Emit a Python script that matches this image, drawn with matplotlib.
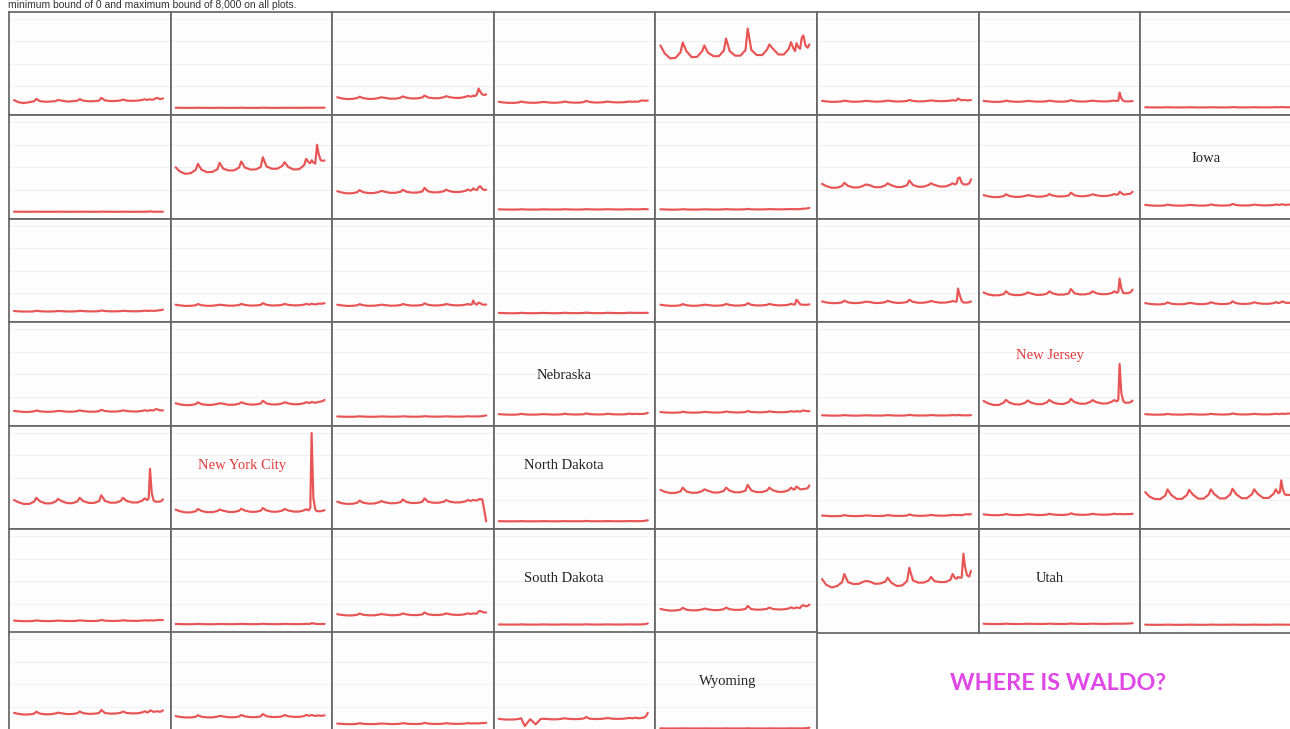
import matplotlib
matplotlib.use("Agg")
import matplotlib.pyplot as plt

# ---------------- data ----------------
# sample dates (decimal years) shared by every panel
dates = [2014.00, 2014.20, 2014.45, 2014.70, 2014.93,
         2015.03, 2015.20, 2015.45, 2015.70, 2015.93,
         2016.03, 2016.20, 2016.45, 2016.70, 2016.93,
         2017.03, 2017.20, 2017.45, 2017.70, 2017.93,
         2018.03, 2018.20, 2018.45, 2018.70, 2018.93,
         2019.03, 2019.20, 2019.45, 2019.70, 2019.93,
         2020.03, 2020.15, 2020.22, 2020.28, 2020.36, 2020.45,
         2020.53, 2020.60, 2020.70, 2020.80, 2020.88]

states = ["Alabama", "Alaska", "Arizona", "Arkansas", "California", "Colorado",
          "Connecticut", "Delaware", "District of Columbia", "Florida", "Georgia",
          "Hawaii", "Idaho", "Illinois", "Indiana", "Iowa", "Kansas", "Kentucky",
          "Louisiana", "Maine", "Maryland", "Massachusetts", "Michigan", "Minnesota",
          "Mississippi", "Missouri", "Montana", "Nebraska", "Nevada", "New Hampshire",
          "New Jersey", "New Mexico", "New York", "New York City", "North Carolina",
          "North Dakota", "Ohio", "Oklahoma", "Oregon", "Pennsylvania", "Puerto Rico",
          "Rhode Island", "South Carolina", "South Dakota", "Tennessee", "Texas",
          "Utah", "Vermont", "Virginia", "Washington", "West Virginia", "Wisconsin",
          "Wyoming"]

alabama = [750, 560, 480, 560, 640, 850, 650, 600, 620, 660, 760, 700, 620, 640, 700, 830, 700, 640, 650, 700, 950, 720, 660, 670, 720, 800, 700, 680, 700, 760, 820, 760, 800, 820, 780, 800, 900, 950, 860, 850, 900]
alaska = [70, 60, 55, 55, 60, 70, 60, 55, 55, 60, 65, 60, 55, 55, 60, 70, 60, 55, 55, 60, 75, 60, 55, 55, 60, 70, 60, 60, 60, 65, 70, 65, 65, 65, 65, 65, 70, 70, 70, 70, 70]
arizona = [1000, 900, 840, 850, 930, 1050, 920, 850, 860, 940, 1000, 950, 870, 880, 960, 1080, 960, 890, 900, 980, 1150, 980, 910, 920, 1000, 1100, 1000, 940, 950, 1040, 1120, 1060, 1080, 1150, 1100, 1250, 1780, 1500, 1250, 1200, 1250]
arkansas = [600, 540, 500, 500, 540, 620, 550, 510, 510, 550, 580, 560, 510, 520, 560, 620, 560, 520, 520, 570, 680, 580, 530, 540, 580, 620, 570, 540, 550, 590, 630, 590, 600, 620, 600, 610, 680, 720, 700, 690, 700]
california = [5600, 4900, 4450, 4500, 5000, 5870, 5100, 4550, 4600, 5100, 5600, 4950, 4650, 4650, 5150, 6220, 5100, 4700, 4700, 5200, 7110, 5200, 4750, 4750, 5250, 5690, 5300, 4800, 4800, 5300, 5900, 5300, 5100, 5800, 5500, 5300, 6300, 6490, 5600, 5400, 5700]
colorado = [680, 630, 590, 600, 640, 700, 640, 600, 610, 650, 680, 650, 610, 620, 660, 710, 660, 620, 630, 670, 760, 670, 630, 640, 690, 720, 680, 650, 660, 700, 740, 700, 720, 900, 800, 720, 760, 750, 720, 730, 760]
connecticut = [680, 630, 590, 590, 630, 700, 640, 600, 600, 640, 670, 650, 610, 610, 650, 700, 650, 610, 610, 660, 750, 660, 620, 620, 670, 700, 660, 630, 630, 680, 700, 660, 700, 1420, 900, 680, 640, 630, 630, 650, 660]
delaware = [110, 100, 95, 95, 100, 115, 100, 95, 95, 100, 110, 105, 95, 95, 100, 115, 100, 95, 95, 105, 125, 105, 100, 100, 105, 115, 105, 100, 100, 110, 120, 110, 110, 130, 120, 110, 110, 110, 110, 110, 115]
dist_columbia = [30, 25, 20, 20, 25, 30, 25, 20, 20, 25, 30, 25, 20, 20, 25, 30, 25, 20, 20, 25, 35, 25, 20, 20, 25, 30, 25, 20, 20, 25, 30, 25, 30, 60, 40, 25, 25, 25, 25, 25, 25]
florida = [3980, 3600, 3390, 3450, 3750, 4280, 3750, 3540, 3560, 3800, 4370, 3850, 3690, 3700, 3950, 4490, 3950, 3780, 3780, 4000, 4870, 4050, 3840, 3850, 4100, 4430, 4000, 3780, 3800, 4150, 4730, 4400, 4350, 4600, 4400, 4300, 5970, 5200, 4600, 4550, 4580]
georgia = [1850, 1740, 1660, 1670, 1760, 1950, 1760, 1680, 1690, 1780, 1880, 1800, 1700, 1710, 1800, 1980, 1800, 1720, 1730, 1820, 2150, 1830, 1740, 1760, 1850, 1980, 1840, 1770, 1790, 1880, 2000, 1900, 1950, 2100, 2000, 1950, 2200, 2300, 2050, 1950, 1980]
hawaii = [240, 225, 215, 215, 225, 245, 225, 215, 215, 225, 240, 230, 220, 220, 230, 250, 230, 220, 220, 230, 255, 235, 225, 225, 235, 250, 235, 225, 225, 240, 250, 240, 240, 240, 235, 235, 240, 250, 260, 250, 245]
idaho = [240, 225, 210, 210, 225, 250, 225, 215, 215, 230, 240, 230, 220, 220, 235, 255, 235, 225, 225, 240, 270, 240, 230, 230, 245, 260, 245, 235, 240, 255, 265, 250, 250, 260, 250, 250, 280, 300, 300, 330, 360]
illinois = [2500, 2300, 2150, 2160, 2320, 2600, 2320, 2180, 2190, 2350, 2450, 2380, 2200, 2210, 2370, 2550, 2380, 2220, 2230, 2390, 2800, 2400, 2240, 2250, 2410, 2550, 2400, 2260, 2270, 2430, 2550, 2450, 2550, 3000, 3070, 2600, 2450, 2450, 2450, 2550, 2900]
indiana = [1500, 1400, 1320, 1330, 1410, 1580, 1420, 1340, 1350, 1430, 1500, 1450, 1360, 1370, 1450, 1590, 1460, 1380, 1390, 1470, 1720, 1480, 1400, 1410, 1490, 1580, 1490, 1420, 1430, 1520, 1600, 1530, 1580, 1800, 1700, 1550, 1550, 1580, 1600, 1650, 1800]
iowa = [630, 590, 560, 560, 590, 660, 600, 565, 565, 595, 630, 610, 570, 570, 600, 670, 610, 575, 575, 605, 720, 620, 580, 580, 610, 660, 620, 585, 590, 620, 670, 630, 640, 680, 670, 630, 640, 650, 660, 700, 800]
kansas = [400, 370, 350, 350, 370, 420, 380, 355, 355, 375, 400, 385, 360, 360, 380, 420, 390, 365, 365, 385, 450, 395, 370, 370, 390, 420, 395, 375, 375, 395, 430, 405, 410, 430, 420, 410, 420, 440, 460, 480, 520]
kentucky = [960, 900, 850, 860, 910, 1020, 910, 860, 870, 920, 960, 930, 870, 880, 930, 1030, 940, 880, 890, 940, 1100, 950, 890, 900, 950, 1030, 950, 900, 910, 960, 1040, 970, 990, 1050, 1010, 980, 1020, 1050, 1050, 1060, 1100]
louisiana = [960, 900, 850, 860, 910, 1010, 910, 860, 870, 920, 960, 930, 870, 880, 930, 1020, 940, 880, 890, 940, 1080, 950, 890, 900, 950, 1020, 950, 900, 910, 960, 1020, 960, 1000, 1330, 1050, 960, 1150, 1100, 980, 960, 980]
maine = [230, 215, 200, 200, 215, 240, 215, 205, 205, 220, 230, 220, 205, 205, 220, 245, 220, 210, 210, 225, 260, 225, 210, 210, 225, 245, 225, 215, 215, 230, 250, 230, 230, 240, 235, 225, 225, 230, 230, 235, 240]
maryland = [960, 900, 860, 860, 910, 1020, 910, 860, 870, 920, 960, 930, 870, 880, 930, 1030, 940, 880, 890, 940, 1100, 950, 890, 900, 950, 1030, 950, 900, 910, 960, 1040, 970, 1000, 1400, 1250, 1000, 960, 960, 950, 960, 990]
massachusetts = [1250, 1160, 1100, 1100, 1170, 1320, 1170, 1100, 1110, 1180, 1230, 1200, 1110, 1120, 1190, 1310, 1200, 1120, 1130, 1200, 1400, 1210, 1130, 1140, 1210, 1300, 1210, 1140, 1150, 1220, 1300, 1220, 1250, 2400, 1800, 1300, 1150, 1150, 1150, 1180, 1250]
michigan = [2050, 1880, 1790, 1800, 1900, 2150, 1900, 1810, 1820, 1920, 2050, 1950, 1830, 1840, 1940, 2150, 1960, 1850, 1860, 1960, 2350, 1970, 1870, 1880, 1980, 2150, 1980, 1890, 1900, 2000, 2150, 2020, 2100, 3290, 2400, 2000, 1980, 1980, 2000, 2100, 2300]
minnesota = [1100, 1040, 990, 990, 1050, 1170, 1050, 1000, 1000, 1060, 1120, 1080, 1010, 1010, 1070, 1180, 1080, 1020, 1020, 1080, 1260, 1090, 1030, 1030, 1090, 1180, 1090, 1040, 1040, 1100, 1190, 1110, 1130, 1200, 1250, 1150, 1120, 1120, 1130, 1200, 1350]
mississippi = [720, 670, 630, 630, 680, 760, 680, 640, 640, 690, 720, 700, 650, 650, 700, 770, 700, 650, 650, 700, 820, 710, 660, 660, 710, 770, 710, 670, 670, 720, 780, 730, 740, 790, 770, 760, 860, 880, 790, 760, 770]
missouri = [1400, 1300, 1230, 1240, 1320, 1480, 1320, 1250, 1260, 1340, 1400, 1360, 1260, 1270, 1350, 1490, 1370, 1280, 1290, 1370, 1620, 1380, 1290, 1300, 1380, 1490, 1390, 1310, 1320, 1400, 1500, 1420, 1450, 1520, 1480, 1440, 1480, 1520, 1550, 1600, 1700]
montana = [230, 210, 200, 200, 215, 240, 215, 200, 200, 215, 230, 220, 205, 205, 220, 240, 220, 205, 205, 220, 250, 225, 210, 210, 225, 240, 225, 210, 210, 230, 245, 230, 230, 230, 225, 225, 235, 240, 260, 290, 320]
nebraska = [430, 405, 385, 385, 410, 460, 410, 390, 390, 415, 430, 420, 395, 395, 420, 470, 425, 400, 400, 425, 500, 430, 405, 405, 430, 470, 430, 410, 410, 440, 480, 440, 445, 460, 450, 440, 445, 450, 460, 490, 540]
nevada = [620, 585, 560, 560, 590, 650, 590, 565, 570, 600, 630, 610, 575, 575, 610, 670, 615, 585, 585, 620, 710, 625, 595, 595, 630, 680, 630, 605, 605, 645, 700, 650, 660, 700, 680, 650, 720, 760, 720, 690, 700]
new_hampshire = [330, 315, 300, 300, 315, 350, 315, 300, 300, 320, 330, 320, 305, 305, 320, 350, 320, 305, 305, 325, 370, 325, 310, 310, 325, 350, 325, 310, 315, 330, 355, 330, 330, 360, 345, 330, 325, 325, 325, 330, 340]
new_jersey = [1600, 1400, 1250, 1250, 1450, 1700, 1450, 1300, 1300, 1450, 1650, 1450, 1320, 1320, 1480, 1700, 1480, 1340, 1340, 1500, 1790, 1500, 1360, 1360, 1520, 1680, 1500, 1380, 1380, 1550, 1680, 1560, 1700, 4900, 2300, 1600, 1450, 1450, 1450, 1500, 1640]
new_mexico = [430, 405, 385, 385, 410, 450, 410, 390, 390, 415, 430, 420, 395, 395, 420, 460, 425, 400, 400, 425, 490, 430, 405, 405, 430, 460, 430, 410, 410, 440, 470, 440, 445, 470, 460, 450, 470, 490, 480, 470, 500]
new_york = [2000, 1800, 1650, 1650, 1850, 2200, 1880, 1700, 1700, 1870, 2100, 1900, 1720, 1720, 1880, 2200, 1900, 1740, 1740, 1900, 2420, 1920, 1760, 1760, 1920, 2200, 1920, 1780, 1780, 1950, 2150, 2000, 2150, 4780, 2600, 1950, 1850, 1850, 1850, 1900, 2060]
new_york_city = [1150, 1000, 900, 900, 1000, 1200, 1020, 920, 920, 1020, 1150, 1050, 940, 940, 1040, 1220, 1060, 950, 950, 1050, 1280, 1070, 960, 960, 1060, 1200, 1070, 970, 970, 1080, 1180, 1080, 1300, 7950, 2200, 1150, 1000, 1000, 1000, 1050, 1100]
north_carolina = [1850, 1720, 1650, 1660, 1760, 1950, 1760, 1680, 1690, 1790, 1900, 1800, 1710, 1720, 1810, 2050, 1820, 1730, 1740, 1830, 2150, 1840, 1750, 1760, 1850, 2000, 1850, 1780, 1790, 1880, 2000, 1920, 1950, 2000, 1980, 1950, 2060, 2080, 2050, 1000, 100]
north_dakota = [120, 110, 105, 105, 110, 125, 110, 105, 105, 110, 120, 115, 105, 105, 115, 125, 115, 110, 110, 115, 135, 115, 110, 110, 115, 125, 115, 110, 110, 120, 130, 120, 120, 120, 120, 115, 120, 125, 140, 170, 200]
ohio = [2900, 2730, 2620, 2630, 2770, 3100, 2760, 2640, 2650, 2790, 2950, 2820, 2660, 2670, 2810, 3100, 2830, 2680, 2690, 2830, 3350, 2850, 2700, 2710, 2850, 3100, 2860, 2720, 2730, 2880, 3100, 2920, 2980, 3200, 3100, 2950, 2950, 2980, 3000, 3050, 3300]
oklahoma = [620, 590, 565, 565, 595, 660, 595, 570, 575, 600, 630, 610, 575, 580, 610, 670, 615, 585, 590, 620, 720, 625, 595, 600, 630, 680, 630, 605, 610, 645, 690, 650, 660, 670, 660, 650, 680, 720, 730, 720, 740]
oregon = [720, 680, 650, 650, 690, 760, 690, 655, 660, 700, 730, 705, 665, 665, 705, 770, 710, 675, 675, 715, 820, 720, 685, 685, 725, 770, 725, 695, 695, 735, 780, 740, 745, 750, 745, 735, 740, 750, 750, 760, 770]
pennsylvania = [2700, 2300, 2080, 2080, 2400, 2950, 2450, 2100, 2100, 2450, 2900, 2480, 2120, 2120, 2480, 2950, 2500, 2140, 2140, 2500, 3000, 2520, 2160, 2160, 2520, 2950, 2540, 2180, 2180, 2550, 2950, 2600, 2700, 3750, 2900, 2500, 2450, 2450, 2450, 2500, 2650]
puerto_rico = [480, 450, 430, 430, 455, 500, 455, 435, 435, 460, 480, 465, 440, 440, 465, 510, 470, 445, 445, 470, 540, 475, 450, 450, 475, 510, 475, 455, 455, 480, 510, 480, 490, 510, 500, 490, 500, 520, 540, 530, 520]
rhode_island = [180, 170, 160, 160, 170, 190, 170, 160, 160, 170, 180, 175, 165, 165, 175, 190, 175, 165, 165, 175, 200, 175, 165, 165, 175, 190, 175, 170, 170, 180, 190, 180, 190, 260, 230, 190, 180, 175, 175, 180, 190]
south_carolina = [1050, 990, 940, 940, 1000, 1110, 1000, 950, 950, 1010, 1060, 1020, 960, 960, 1020, 1120, 1030, 970, 970, 1030, 1200, 1040, 980, 980, 1040, 1120, 1040, 990, 990, 1060, 1130, 1070, 1090, 1120, 1100, 1100, 1300, 1350, 1250, 1200, 1200]
south_dakota = [140, 130, 125, 125, 130, 145, 130, 125, 125, 130, 140, 135, 125, 125, 135, 145, 135, 130, 130, 135, 155, 135, 130, 130, 135, 145, 135, 130, 130, 140, 150, 140, 140, 140, 140, 135, 140, 145, 160, 190, 230]
tennessee = [1520, 1430, 1370, 1380, 1450, 1620, 1450, 1390, 1400, 1470, 1550, 1480, 1410, 1420, 1490, 1640, 1490, 1430, 1440, 1510, 1780, 1500, 1450, 1460, 1530, 1640, 1510, 1470, 1480, 1560, 1660, 1560, 1600, 1650, 1620, 1600, 1800, 1850, 1750, 1780, 1900]
texas = [4170, 3650, 3430, 3550, 3900, 4620, 3900, 3730, 3750, 3950, 4000, 3950, 3750, 3780, 3950, 4300, 3850, 3560, 3600, 4000, 5180, 4050, 3850, 3860, 4050, 4360, 3980, 3900, 3910, 4100, 4620, 4250, 4200, 4350, 4300, 4300, 6430, 5300, 4500, 4400, 4900]
utah = [200, 185, 175, 175, 185, 210, 185, 175, 175, 190, 200, 190, 180, 180, 190, 210, 190, 180, 180, 195, 225, 195, 185, 185, 195, 210, 195, 185, 185, 200, 215, 200, 200, 205, 205, 200, 210, 215, 220, 230, 250]
vermont = [120, 110, 105, 105, 110, 125, 110, 105, 105, 110, 120, 115, 105, 105, 115, 125, 115, 110, 110, 115, 130, 115, 110, 110, 115, 125, 115, 110, 110, 120, 125, 120, 120, 125, 120, 115, 115, 115, 115, 115, 120]
virginia = [1480, 1390, 1330, 1340, 1410, 1580, 1410, 1350, 1360, 1430, 1500, 1440, 1370, 1380, 1450, 1600, 1450, 1390, 1400, 1470, 1740, 1460, 1410, 1420, 1490, 1600, 1470, 1430, 1440, 1520, 1620, 1520, 1560, 1700, 1650, 1560, 1600, 1620, 1580, 1600, 1700]
washington = [1190, 1120, 1070, 1070, 1130, 1270, 1130, 1080, 1080, 1140, 1210, 1160, 1090, 1090, 1150, 1290, 1170, 1100, 1100, 1160, 1380, 1180, 1110, 1110, 1170, 1290, 1180, 1120, 1120, 1190, 1300, 1210, 1250, 1300, 1250, 1200, 1230, 1250, 1220, 1230, 1260]
west_virginia = [530, 500, 475, 475, 505, 560, 505, 480, 480, 510, 530, 515, 485, 485, 515, 565, 520, 490, 490, 520, 600, 525, 495, 495, 525, 560, 525, 500, 500, 535, 570, 540, 545, 550, 545, 535, 545, 560, 570, 580, 600]
wisconsin = [950, 900, 880, 890, 940, 1000, 310, 920, 460, 930, 950, 940, 900, 910, 960, 1000, 950, 920, 930, 980, 1110, 960, 930, 940, 990, 1020, 970, 940, 950, 1000, 1030, 1000, 1010, 1050, 1030, 1000, 1010, 1030, 1060, 1200, 1490]
wyoming = [100, 95, 90, 90, 95, 105, 95, 90, 90, 95, 100, 95, 90, 90, 95, 105, 95, 90, 90, 95, 110, 95, 90, 90, 95, 105, 95, 90, 90, 100, 105, 100, 100, 100, 100, 95, 100, 100, 110, 130, 160]

series = [alabama, alaska, arizona, arkansas, california, colorado, connecticut,
          delaware, dist_columbia, florida, georgia, hawaii, idaho, illinois, indiana,
          iowa, kansas, kentucky, louisiana, maine, maryland, massachusetts, michigan,
          minnesota, mississippi, missouri, montana, nebraska, nevada, new_hampshire,
          new_jersey, new_mexico, new_york, new_york_city, north_carolina, north_dakota,
          ohio, oklahoma, oregon, pennsylvania, puerto_rico, rhode_island,
          south_carolina, south_dakota, tennessee, texas, utah, vermont, virginia,
          washington, west_virginia, wisconsin, wyoming]

labelled = {"Iowa": (0.41, 0.575, "#222222"), "Nebraska": (0.435, 0.48, "#222222"),
            "New Jersey": (0.44, 0.68, "#e0393b"), "New York City": (0.445, 0.61, "#e0393b"),
            "North Dakota": (0.435, 0.61, "#222222"), "South Dakota": (0.435, 0.52, "#222222"),
            "Utah": (0.44, 0.52, "#222222"), "Wyoming": (0.445, 0.53, "#222222")}

note = "minimum bound of 0 and maximum bound of 8,000 on all plots."
y_max = 8000

# ---------------- layout ----------------
W, H = 1290, 729
fig = plt.figure(figsize=(W / 100, H / 100), dpi=100)
fig.patch.set_facecolor("white")

x0, y0 = 9.0, 11.5
pw, ph = 161.6, 103.5
ncol = 8

yr_per_px = (dates[-1] - dates[0]) / 149.0
d2p = (ph - 13.5) / y_max

for i, (name, vals) in enumerate(zip(states, series)):
    r, c = divmod(i, ncol)
    left = x0 + c * pw
    top = y0 + r * ph
    ax = fig.add_axes([left / W, 1 - (top + ph) / H, pw / W, ph / H])
    ax.set_facecolor("#fdfdfd")
    for yv in (2000, 4000, 6000, 8000):
        ax.axhline(yv, color="#f1f1f1", lw=0.8, zorder=1)
    ax.plot(dates, vals, color="#e63d3d", lw=1.55, alpha=0.88, zorder=3,
            solid_joinstyle="round", solid_capstyle="round")
    ax.set_xlim(dates[0] - 5 * yr_per_px, dates[-1] + 7.6 * yr_per_px)
    ax.set_ylim(-6.5 / d2p, (ph - 6.5) / d2p)
    ax.set_xticks([])
    ax.set_yticks([])
    for s in ax.spines.values():
        s.set_color("#666666")
        s.set_linewidth(1.25)
    if name in labelled:
        xx, yy, col = labelled[name]
        ax.text(xx, yy, name, transform=ax.transAxes, ha="center", va="center",
                fontsize=10.5, color=col, family=["Liberation Serif", "DejaVu Serif"],
                zorder=5)

fig.text(1058 / W, 1 - 683 / H, "WHERE IS WALDO?", ha="center", va="center",
         fontsize=16.8, fontweight="bold", color="#df48e6",
         family=["Lato", "DejaVu Sans"])

fig.text(8 / W, 1 - 0.5 / H, note, ha="left", va="top", fontsize=7.5,
         color="#333333", family=["Liberation Sans", "DejaVu Sans"])

fig.savefig("out.png", dpi=100, facecolor="white")
